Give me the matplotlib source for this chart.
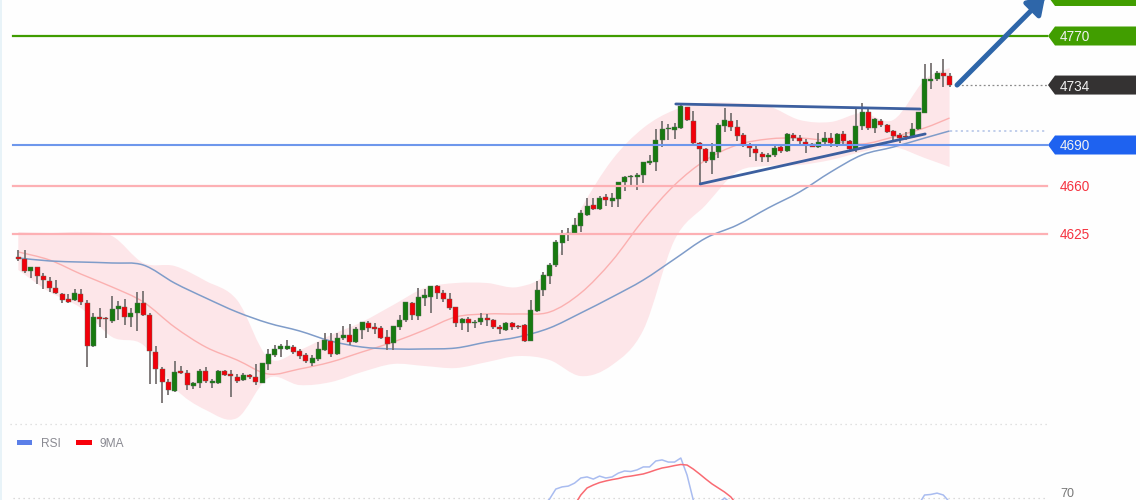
import matplotlib
matplotlib.use("Agg")
import matplotlib.pyplot as plt
from matplotlib.patches import Polygon, Rectangle, PathPatch
from matplotlib.path import Path

plt.rcParams['font.family'] = ['Liberation Sans', 'DejaVu Sans']

# candles: (high, open, close, low), bar index = position in list
candles = [
 (4612.9,4608.0,4606.1,4605.1),(4612.9,4606.3,4597.8,4596.3),(4600.7,4597.5,4600.2,4592.1),(4600.7,4600.2,4594.1,4588.0),
 (4595.8,4594.1,4590.9,4584.0),(4592.9,4590.4,4585.0,4582.3),(4590.9,4585.0,4581.1,4580.6),(4581.1,4580.6,4576.2,4573.8),
 (4580.6,4576.9,4575.0,4573.8),(4584.0,4576.2,4581.1,4575.7),(4584.0,4580.6,4575.0,4572.6),(4576.2,4574.3,4542.5,4526.8),
 (4566.9,4542.5,4564.0,4542.0),(4570.1,4563.5,4562.0,4556.7),(4564.0,4563.0,4562.0,4548.1),(4579.2,4561.1,4569.9,4559.6),
 (4575.5,4569.4,4571.8,4561.5),(4576.7,4571.3,4564.0,4557.9),(4570.1,4564.0,4566.4,4556.2),(4582.3,4566.4,4573.8,4553.7),
 (4583.1,4573.8,4565.0,4564.5),(4566.4,4565.5,4539.0,4514.6),(4542.5,4538.1,4525.3,4514.6),(4527.3,4525.8,4516.0,4500.9),
 (4518.0,4516.0,4510.2,4506.5),(4531.7,4509.7,4523.4,4508.9),(4527.8,4523.9,4522.4,4521.9),(4524.8,4522.9,4513.6,4510.2),
 (4516.3,4513.1,4515.5,4510.6),(4525.3,4515.5,4523.9,4511.4),(4527.3,4523.9,4516.5,4515.5),(4518.0,4515.5,4516.5,4511.6),
 (4524.8,4515.0,4524.3,4514.6),(4524.8,4524.3,4521.2,4520.4),(4524.8,4521.9,4520.4,4505.3),(4521.9,4519.9,4517.0,4515.5),
 (4522.4,4517.5,4521.4,4516.5),(4521.9,4521.4,4519.9,4518.0),(4529.2,4519.5,4516.0,4513.6),(4529.7,4515.5,4529.7,4515.0),
 (4540.0,4529.2,4536.6,4524.8),(4543.2,4535.9,4540.3,4534.1),(4543.9,4540.5,4542.5,4534.1),(4546.9,4540.5,4542.5,4539.5),
 (4543.0,4541.5,4537.8,4536.6),(4540.0,4538.8,4535.1,4532.7),(4537.1,4535.9,4531.2,4529.7),(4535.9,4529.7,4533.6,4527.8),
 (4545.6,4532.9,4540.0,4531.7),(4551.8,4539.5,4546.9,4539.0),(4552.3,4546.4,4536.6,4534.1),(4551.8,4536.3,4548.1,4535.6),
 (4557.1,4548.1,4550.5,4546.9),(4558.6,4550.5,4545.4,4543.2),(4556.2,4545.4,4554.7,4544.9),(4560.3,4554.2,4559.8,4547.3),
 (4561.1,4559.6,4555.7,4553.0),(4559.1,4556.2,4554.7,4551.3),(4557.1,4555.4,4548.6,4547.8),(4554.2,4549.3,4543.9,4539.5),
 (4557.1,4544.4,4557.1,4539.5),(4565.2,4556.7,4561.6,4554.2),(4574.8,4561.6,4574.8,4560.1),(4575.0,4573.8,4565.0,4561.6),
 (4584.8,4564.5,4578.2,4561.6),(4584.1,4577.5,4580.2,4571.8),(4586.5,4578.7,4586.5,4566.4),(4587.0,4586.5,4581.6,4576.7),
 (4583.6,4581.6,4576.7,4575.0),(4581.1,4577.2,4570.6,4568.9),(4571.3,4570.8,4559.6,4556.2),(4562.8,4559.6,4562.5,4554.2),
 (4563.5,4562.5,4559.1,4553.0),(4561.6,4559.1,4560.1,4555.4),(4566.4,4560.1,4563.0,4557.9),(4565.9,4563.3,4561.6,4557.1),
 (4562.0,4561.6,4556.2,4554.7),(4557.9,4556.7,4554.7,4551.3),(4560.1,4554.2,4559.6,4553.7),(4560.3,4559.6,4556.7,4554.2),
 (4557.9,4557.1,4556.4,4554.7),(4558.4,4557.9,4546.4,4545.6),(4576.2,4545.9,4568.9,4545.9),(4590.4,4568.4,4583.6,4567.6),
 (4597.0,4583.6,4594.3,4579.1),(4603.1,4593.8,4602.2,4587.9),(4620.3,4601.9,4618.8,4600.7),(4627.6,4618.3,4624.7,4609.2),
 (4628.8,4624.7,4625.6,4619.8),(4636.2,4625.2,4631.3,4624.7),(4642.3,4630.5,4640.3,4626.4),(4650.8,4638.6,4645.2,4637.9),
 (4650.8,4645.9,4643.3,4642.3),(4652.6,4643.3,4651.1,4642.3),(4654.0,4651.6,4649.6,4645.2),(4655.0,4648.6,4651.1,4644.7),
 (4663.1,4650.6,4662.8,4644.2),(4667.2,4662.8,4666.3,4656.5),(4668.0,4666.3,4667.2,4659.9),(4669.7,4666.3,4667.7,4657.0),
 (4677.8,4668.2,4677.5,4662.3),(4682.7,4677.0,4678.5,4675.3),(4701.5,4677.8,4693.7,4671.2),(4707.9,4693.7,4702.0,4688.8),
 (4705.4,4701.5,4702.2,4693.7),(4706.4,4701.0,4703.0,4694.2),(4721.1,4702.2,4718.6,4702.0),(4718.1,4717.6,4708.3,4707.9),
 (4714.7,4707.9,4691.2,4690.7),(4692.4,4691.2,4686.8,4660.6),(4687.5,4686.8,4678.5,4676.5),(4691.7,4679.0,4685.1,4668.7),
 (4706.4,4685.1,4704.7,4680.2),(4716.9,4703.9,4708.3,4699.8),(4713.7,4707.9,4703.5,4700.5),(4708.3,4703.2,4696.6,4693.2),
 (4698.6,4697.1,4690.0,4688.8),(4691.2,4689.7,4687.5,4680.9),(4690.0,4686.8,4683.9,4678.5),(4685.1,4683.4,4681.4,4677.8),
 (4683.9,4680.9,4682.6,4677.8),(4690.0,4682.6,4687.8,4681.4),(4690.0,4688.3,4685.8,4683.9),(4698.6,4685.8,4698.1,4685.1),
 (4699.0,4697.6,4695.4,4693.2),(4697.3,4695.4,4692.7,4690.7),(4694.2,4692.4,4690.2,4683.9),(4691.2,4690.5,4688.8,4688.3),
 (4699.0,4688.3,4692.4,4687.5),(4699.8,4692.2,4694.9,4690.7),(4698.6,4695.4,4691.2,4688.8),(4699.0,4690.0,4698.1,4688.3),
 (4700.5,4697.8,4693.2,4690.0),(4693.7,4693.2,4686.8,4686.3),(4716.2,4686.8,4703.9,4685.1),(4720.6,4703.9,4714.5,4701.0),
 (4716.2,4714.5,4702.2,4701.0),(4709.6,4702.2,4708.8,4699.0),(4708.8,4707.8,4704.7,4703.0),(4705.4,4704.9,4699.8,4698.6),
 (4701.0,4700.3,4696.6,4693.7),(4698.6,4697.3,4695.4,4691.2),(4699.8,4696.6,4695.6,4693.7),(4705.9,4696.1,4701.7,4695.6),
 (4714.5,4701.5,4714.2,4701.0),(4749.5,4713.7,4738.7,4713.2),(4749.9,4737.2,4738.2,4730.8),(4744.6,4738.2,4743.1,4737.2),
 (4752.9,4743.1,4740.6,4732.8),(4742.6,4740.6,4734.0,4732.3),
]

# sampled indicators
ma_bars = list(range(0, 150, 5)) + [149]
ma_long = [4607.1,4604.9,4604.1,4603.4,4601.9,4588.7,4577.7,4567.4,4559.3,4553.5,4546.1,4541.7,4540.3,4540.3,4541.0,
           4545.4,4549.1,4555.7,4566.7,4578.4,4590.9,4606.3,4621.7,4631.2,4643.8,4655.5,4670.2,4682.7,4688.5,4695.1,4700.3]
ma_short = [4611.5,4605.6,4595.3,4585.8,4574.8,4556.4,4541.7,4532.2,4521.9,4525.6,4530.7,4538.1,4545.4,4554.2,4563.8,
            4566.0,4566.0,4567.4,4581.4,4604.9,4635.0,4660.6,4679.0,4690.0,4694.4,4695.1,4692.9,4690.7,4695.9,4702.5,4709.8]
band_upper = [4626.1,4625.4,4626.1,4623.2,4603.4,4601.2,4590.2,4576.2,4533.7,4539.5,4550.5,4560.1,4572.6,4585.0,4588.7,
              4588.7,4585.8,4598.3,4643.0,4679.0,4702.5,4715.7,4720.8,4720.8,4718.6,4708.4,4706.9,4713.5,4708.4,4737.7,4746.5]
band_lower = [4598.3,4582.1,4570.4,4549.1,4543.2,4511.6,4495.5,4489.6,4519.0,4513.8,4516.0,4523.4,4529.3,4527.8,4526.3,
              4530.7,4535.1,4532.2,4520.4,4528.5,4554.2,4620.3,4646.0,4670.2,4674.6,4675.3,4679.0,4684.9,4688.5,4680.5,4673.9]

# price levels
level_green = 4770
level_last = 4734
level_blue = 4690
level_red = [4660, 4625]
level_ma = 4700.3
level_target = 4799

# drawn trend lines: (bar, price)
trend_top = [(105.2, 4720.1), (144.3, 4716.4)]
trend_low = [(109.1, 4661.4), (145.1, 4698.1)]
arrow_from = (150.2, 4734.0)
arrow_to = (164.3, 4799.0)

# RSI panel
rsi_a_bars = list(range(84, 110))
rsi_a = [67.3,69.5,73.2,74.0,74.3,75.4,77.3,77.7,76.9,78.0,77.3,77.7,79.1,79.9,79.7,80.3,81.4,81.4,83.6,84.0,83.2,83.2,84.7,78.4,69.1,65.4]
rsi_b_bars = [112, 113, 114]
rsi_b = [68.0, 69.9, 68.0]
rsi_c_bars = [144, 145, 146, 147, 148, 149]
rsi_c = [67.3, 71.0, 71.2, 71.7, 71.0, 68.4]
ma9_bars = list(range(89, 116))
ma9 = [67.3,71.0,73.6,74.7,75.6,76.2,76.7,77.1,77.7,78.0,78.4,78.8,79.5,80.3,81.0,81.4,81.9,82.3,82.1,80.6,78.8,76.9,75.1,73.6,72.1,70.3,67.3]

W, H = 1140, 500
X0, DX = 18.3, 6.25
def bx(px):
    return (px - X0) / DX

def curve_pts(xs, ys):
    """Bezier vertices/codes of a smooth curve through the read points."""
    p = list(zip(xs, ys))
    verts, codes = [p[0]], [Path.MOVETO]
    for i in range(len(p) - 1):
        a = p[max(i - 1, 0)]; b = p[i]; c = p[i + 1]; d = p[min(i + 2, len(p) - 1)]
        verts += [(b[0] + (c[0] - a[0]) / 6, b[1] + (c[1] - a[1]) / 6),
                  (c[0] - (d[0] - b[0]) / 6, c[1] - (d[1] - b[1]) / 6), c]
        codes += [Path.CURVE4] * 3
    return verts, codes

def smooth_line(axis, xs, ys, color, lw, z=2):
    v, c = curve_pts(xs, ys)
    axis.add_patch(PathPatch(Path(v, c), fc='none', ec=color, lw=lw, zorder=z))

fig = plt.figure(figsize=(W / 100, H / 100), dpi=100, facecolor='#FEFEFE')
ax = fig.add_axes([0, 0, 1, 1])
ax.set_xlim(bx(0), bx(W))
ax.set_ylim(4429.45, 4796.42)
ax.axis('off')

def py(px):
    return 4796.42 - px * (4796.42 - 4429.45) / H

# bands and moving averages
vu, cu = curve_pts(ma_bars, band_upper)
vl, cl = curve_pts(ma_bars[::-1], band_lower[::-1])
band_path = Path(vu + [vl[0]] + vl[1:] + [vu[0]], cu + [Path.LINETO] + cl[1:] + [Path.CLOSEPOLY])
ax.add_patch(PathPatch(band_path, fc='#FDE6E9', ec='none', lw=0, zorder=1))
smooth_line(ax, ma_bars, ma_short, '#FBB0B0', 1.0)
smooth_line(ax, ma_bars, ma_long, '#7F9CC9', 1.1)

# candles
GREEN, RED, WICK = '#177A10', '#F2000A', '#777272'
for i, (h, o, c, l) in enumerate(candles):
    col = GREEN if c >= o else RED
    ax.vlines(i, l, h, color=WICK, lw=1.3, zorder=3)
    ax.bar(i, max(abs(c - o), 0.9), bottom=min(o, c), width=0.8, color=col, edgecolor='#5A6B5A', lw=0.3, zorder=4)

# levels
x_l, x_r = bx(13), bx(1047)
ax.plot([x_l, x_r], [level_green] * 2, color='#3F9C00', lw=1.6, zorder=5)
ax.plot([x_l, x_r], [level_blue] * 2, color='#6E97EC', lw=1.5, zorder=5)
for lv in level_red:
    ax.plot([x_l, x_r], [lv] * 2, color='#FDB0B4', lw=1.6, zorder=5)
ax.plot([bx(957), x_r], [level_last] * 2, color='#8A8A8A', lw=0.9, ls=(0, (1.5, 2)), zorder=5)
ax.plot([bx(950), x_r], [level_ma] * 2, color='#BCCBEA', lw=1.3, ls=(0, (1.2, 1.8)), zorder=5)

# trend lines and arrow
TREND = '#3C5F9F'
for seg in (trend_top, trend_low):
    ax.plot([p[0] for p in seg], [p[1] for p in seg], color=TREND, lw=2.0, solid_capstyle='round', zorder=6)
ax.annotate('', xy=arrow_to, xytext=arrow_from, zorder=7, annotation_clip=False,
            arrowprops=dict(arrowstyle='-|>,head_length=0.9,head_width=0.6', color='#2E66A9', lw=3.6,
                            shrinkA=0, shrinkB=0, mutation_scale=11))

# price tags
def tag(price, color, label=None, half=9.5):
    yc = (4796.42 - price) / (4796.42 - 4429.45) * H
    pts = [(1048, yc), (1055, yc - half), (1136, yc - half), (1136, yc + half), (1055, yc + half)]
    ax.add_patch(Polygon([(bx(x), py(y)) for x, y in pts], closed=True, fc=color, ec='none', zorder=8))
    if label is not None:
        ax.text(bx(1060), price, label, color='#F2F2F2', fontsize=9.8, va='center_baseline', ha='left', zorder=9)

tag(level_target, '#419E00')
tag(level_green, '#419E00', str(level_green))
tag(level_last, '#343232', str(level_last))
tag(level_blue, '#1E62F0', str(level_blue))
for lv in level_red:
    ax.text(bx(1060), lv, str(lv), color='#F53340', fontsize=9.8, va='center_baseline', ha='left', zorder=9)

# panel divider and legend
ax.plot([bx(10), bx(1047)], [py(424)] * 2, color='#D8D8D8', lw=0.9, ls=(0, (1, 3)), zorder=5)
ax.add_patch(Rectangle((bx(17), py(444.5)), (32 - 17) / DX, py(439.5) - py(444.5), fc='#5B7FE8', ec='none'))
ax.add_patch(Rectangle((bx(76), py(444.5)), (92 - 76) / DX, py(439.5) - py(444.5), fc='#F8000A', ec='none'))
ax.text(bx(41), py(442), 'RSI', color='#8A8A92', fontsize=8.6, va='center_baseline')
ax.text(bx(100), py(442), '9MA', color='#8A8A92', fontsize=8.6, va='center_baseline')

# left edge strip
fig.add_artist(Rectangle((0, 0), 1.5 / W, 1, transform=fig.transFigure, fc='#E8F3F8', ec='none'))

# RSI panel
rx = fig.add_axes([0, 0, 1, 76 / H], facecolor='none')
rx.set_xlim(bx(0), bx(W))
rx.set_ylim(69.15, 97.3)
rx.axis('off')
rx.axhline(70, xmin=13 / W, xmax=1047 / W, color='#CFCFCF', lw=0.9, ls=(0, (1, 3)))
rx.plot(rsi_a_bars, rsi_a, color='#A9BCF0', lw=1.1)
rx.plot(rsi_b_bars, rsi_b, color='#A9BCF0', lw=1.1)
rx.plot(rsi_c_bars, rsi_c, color='#A9BCF0', lw=1.1)
rx.plot(ma9_bars, ma9, color='#F96A72', lw=1.1)
rx.text(bx(1060), 69.3, '70', color='#777777', fontsize=9.0, va='bottom', clip_on=False)

fig.savefig('out.png', dpi=100, facecolor=fig.get_facecolor())
